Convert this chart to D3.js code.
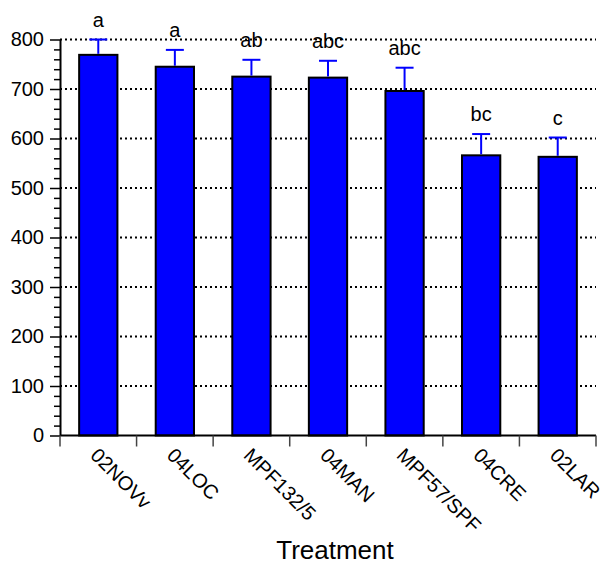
<!DOCTYPE html>
<html>
<head>
<meta charset="utf-8">
<script src="https://cdn.jsdelivr.net/npm/d3@7"></script>
<style>
  body { margin: 0; background: #fff; }
  svg { font-family: "Liberation Sans", Arial, Helvetica, sans-serif; }
</style>
</head>
<body>
<div id="chart"></div>
<script>
// data
var treatments = ["02NOVv", "04LOC", "MPF132/5", "04MAN", "MPF57/SPF", "04CRE", "02LAR"];
var means = [769, 745, 725, 723, 696, 566, 563];
var errors = [31, 34, 34, 34, 47, 43, 39];
var groups = ["a", "a", "ab", "abc", "abc", "bc", "c"];
var yTicks = [0, 100, 200, 300, 400, 500, 600, 700, 800];

var W = 605, H = 565;
var margin = {top: 39.5, right: 9, bottom: 129.5, left: 60};
var width = W - margin.left - margin.right,
    height = H - margin.top - margin.bottom;

var data = treatments.map(function(t, i) {
  return {key: t, value: means[i], err: errors[i], grp: groups[i]};
});

var svg = d3.select("#chart").append("svg")
  .attr("width", W)
  .attr("height", H);

var g = svg.append("g")
  .attr("transform", "translate(" + margin.left + "," + margin.top + ")");

var x = d3.scaleBand()
  .domain(treatments)
  .range([0, width])
  .paddingInner(0.5)
  .paddingOuter(0.25);

var y = d3.scaleLinear()
  .domain([0, 800])
  .range([height, 0]);

// dotted grid lines behind the bars
g.selectAll(".grid")
  .data(yTicks.slice(1))
  .enter().append("line")
    .attr("class", "grid")
    .attr("x1", 0)
    .attr("x2", width)
    .attr("y1", d => y(d))
    .attr("y2", d => y(d))
    .attr("stroke", "#000")
    .attr("stroke-width", 2)
    .attr("stroke-dasharray", "2,3");

// bars
g.selectAll(".bar")
  .data(data)
  .enter().append("rect")
    .attr("class", "bar")
    .attr("x", d => x(d.key))
    .attr("y", d => y(d.value))
    .attr("width", x.bandwidth())
    .attr("height", d => height - y(d.value))
    .attr("fill", "#0000ff")
    .attr("stroke", "#000")
    .attr("stroke-width", 2);

// error bars (upper only)
var cx = d => x(d.key) + x.bandwidth() / 2;
g.selectAll(".err")
  .data(data)
  .enter().append("line")
    .attr("class", "err")
    .attr("x1", cx).attr("x2", cx)
    .attr("y1", d => y(d.value) - 1)
    .attr("y2", d => y(d.value + d.err))
    .attr("stroke", "#0000ff")
    .attr("stroke-width", 2);
g.selectAll(".cap")
  .data(data)
  .enter().append("line")
    .attr("class", "cap")
    .attr("x1", d => cx(d) - 9).attr("x2", d => cx(d) + 9)
    .attr("y1", d => y(d.value + d.err))
    .attr("y2", d => y(d.value + d.err))
    .attr("stroke", "#0000ff")
    .attr("stroke-width", 2);

// significance letters
g.selectAll(".grp")
  .data(data)
  .enter().append("text")
    .attr("class", "grp")
    .attr("x", cx)
    .attr("y", d => y(d.value + d.err) - 13)
    .attr("text-anchor", "middle")
    .attr("font-size", 20)
    .attr("fill", "#000")
    .text(d => d.grp);

// y axis: major + minor ticks
var minor = d3.range(0, 801, 20).filter(v => v % 100 != 0);
g.append("g")
  .call(d3.axisLeft(y).tickValues(minor).tickSize(6).tickFormat(""))
  .call(a => a.select(".domain").remove())
  .selectAll("line").attr("stroke", "#000").attr("stroke-width", 1.5);

var yAxis = g.append("g")
  .call(d3.axisLeft(y).tickValues(yTicks).tickSize(10).tickSizeOuter(0).tickPadding(6));
yAxis.select(".domain").attr("stroke-width", 2);
yAxis.selectAll(".tick line").attr("stroke-width", 1.5);
yAxis.selectAll("text")
  .attr("font-size", 20)
  .attr("font-family", "Liberation Sans, Arial, sans-serif")
  .attr("fill", "#000");

// x axis: line plus ticks between categories
var xAxis = g.append("g").attr("transform", "translate(0," + height + ")");
xAxis.append("line")
  .attr("x1", 0).attr("x2", width)
  .attr("stroke", "#000").attr("stroke-width", 2);
var step = x.step();
xAxis.selectAll(".xt")
  .data(d3.range(treatments.length + 1))
  .enter().append("line")
    .attr("class", "xt")
    .attr("x1", i => i * step).attr("x2", i => i * step)
    .attr("y1", 0).attr("y2", 11)
    .attr("stroke", "#444").attr("stroke-width", 1.5);

xAxis.selectAll(".xl")
  .data(treatments)
  .enter().append("text")
    .attr("class", "xl")
    .attr("transform", d => "translate(" + (x(d) + x.bandwidth() / 2 - 9) + ",21) rotate(45)")
    .attr("text-anchor", "start")
    .attr("font-size", 20)
    .attr("fill", "#000")
    .text(d => d);

// axis title
svg.append("text")
  .attr("x", 335)
  .attr("y", 559)
  .attr("text-anchor", "middle")
  .attr("font-size", 26)
  .attr("fill", "#000")
  .text("Treatment");
</script>
</body>
</html>
